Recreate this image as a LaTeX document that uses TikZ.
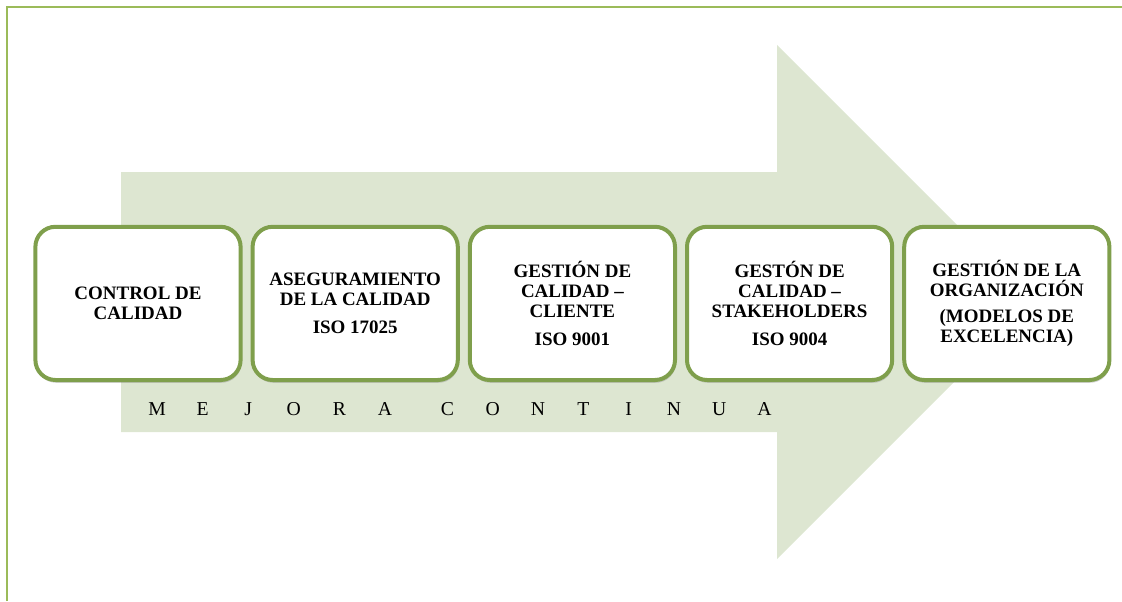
\documentclass[tikz,border=0pt]{standalone}
\usepackage{fontspec}
\setmainfont{Liberation Serif}
\usepackage{xcolor}
\usepackage{tikz}
\usetikzlibrary{positioning, calc, shadows}
\definecolor{mcgreen}{HTML}{7F9F4C}
\definecolor{mclight}{HTML}{DDE6D1}
\definecolor{mcframe}{HTML}{9BBB59}

\begin{document}
\begin{tikzpicture}[
    etapa/.style={draw=mcgreen, fill=white, line width=0.1cm,
                  rounded corners=0.5cm, minimum width=5.13cm,
                  minimum height=3.83cm, align=center, inner sep=2pt,
                  font=\fontsize{13.5}{14.2}\selectfont\bfseries,
                  drop shadow={shadow xshift=0.02cm, shadow yshift=-0.07cm,
                               opacity=0.35}},
    letra/.style={font=\fontsize{14}{16}\selectfont, inner sep=0pt,
                  anchor=base},
    node distance=0.2cm,
]
\useasboundingbox (0,0) rectangle (28.05,15.025);

% thin frame along the top and left edges
\coordinate (frameSW) at (0.175,0);
\coordinate (frameNW) at (0.175,14.85);
\coordinate (frameNE) at (28.05,14.85);
\draw[mcframe, line width=0.9pt] (frameSW) -- (frameNW) -- (frameNE);

% big arrow behind the stages
\coordinate (tailN) at (3.025,10.725);
\coordinate (tailS) at (3.025,4.225);
\coordinate (headN) at (19.425,13.9);
\coordinate (headS) at (19.425,1.05);
\coordinate (tip)   at (25.85,7.475);
\fill[mclight] (tailN) -- (headN |- tailN) -- (headN) -- (tip)
    -- (headS) -- (headS |- tailS) -- (tailS) -- cycle;

% the five stages
\node[etapa] (control) at (3.45,7.44) {CONTROL DE\\CALIDAD};
\node[etapa, right=of control] (aseguramiento)
    {ASEGURAMIENTO\\DE LA CALIDAD\\[0.2cm]ISO 17025};
\node[etapa, right=of aseguramiento] (cliente)
    {GESTIÓN DE\\CALIDAD –\\CLIENTE\\[0.2cm]ISO 9001};
\node[etapa, right=of cliente] (stakeholders)
    {GESTÓN DE\\CALIDAD –\\STAKEHOLDERS\\[0.2cm]ISO 9004};
\node[etapa, right=of stakeholders] (organizacion)
    {GESTIÓN DE LA\\ORGANIZACIÓN\\[0.15cm](MODELOS DE\\EXCELENCIA)};

% spaced-out caption along the arrow body
\foreach \ch [count=\i from 0] in {M,E,J,O,R,A}
    \node[letra] (mejora\i) at (3.925+1.14*\i, 4.65) {\ch};
\foreach \ch [count=\i from 0] in {C,O,N,T,I,N,U,A}
    \node[letra] (continua\i) at (11.185+1.1325*\i, 4.65) {\ch};
\end{tikzpicture}
\end{document}
